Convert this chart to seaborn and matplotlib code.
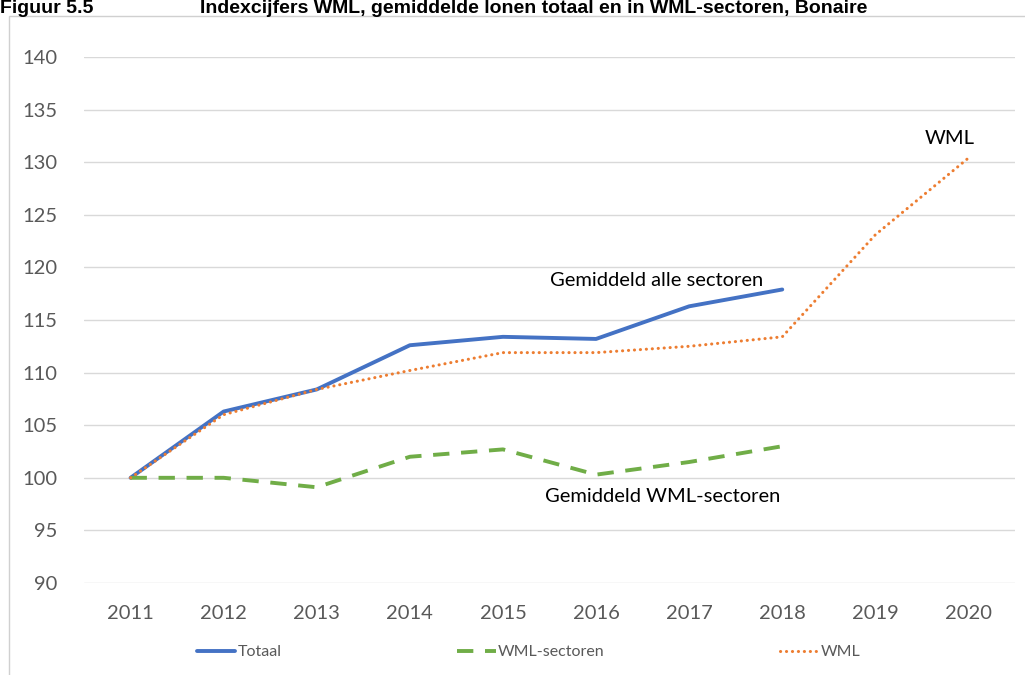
import matplotlib
matplotlib.use("Agg")
import matplotlib.pyplot as plt
import seaborn as sns
import pandas as pd
from matplotlib.patches import Rectangle

years = [2011, 2012, 2013, 2014, 2015, 2016, 2017, 2018, 2019, 2020]
totaal = [100.0, 106.3, 108.4, 112.6, 113.4, 113.2, 116.3, 117.9]
wml_sectoren = [100.0, 100.0, 99.1, 102.0, 102.7, 100.3, 101.5, 103.0]
wml = [100.0, 106.0, 108.4, 110.2, 111.9, 111.9, 112.5, 113.4, 123.1, 130.4]
y_ticks = [90, 95, 100, 105, 110, 115, 120, 125, 130, 135, 140]

title_nr = "Figuur 5.5"
title = "Indexcijfers WML, gemiddelde lonen totaal en in WML-sectoren, Bonaire"

sns.set_theme(style="white")
plt.rcParams['font.family'] = ['Lato', 'DejaVu Sans']

fig = plt.figure(figsize=(10.25, 6.75), dpi=100)
ax = fig.add_axes([84 / 1025, 92 / 675, 931 / 1025, 526 / 675])

df_t = pd.DataFrame({"jaar": years[:len(totaal)], "index": totaal})
df_s = pd.DataFrame({"jaar": years[:len(wml_sectoren)], "index": wml_sectoren})
df_w = pd.DataFrame({"jaar": years[:len(wml)], "index": wml})

sns.lineplot(data=df_t, x="jaar", y="index", ax=ax, color="#4472C4", lw=2.8,
             label="Totaal", solid_capstyle="round")
sns.lineplot(data=df_s, x="jaar", y="index", ax=ax, color="#70AD47", lw=2.8,
             label="WML-sectoren", dashes=False)
ax.lines[-1].set_dashes([4.2, 3.0])
ax.lines[-1].set_dash_capstyle("butt")
sns.lineplot(data=df_w, x="jaar", y="index", ax=ax, color="#ED7D31", lw=2.2,
             label="WML")
ax.lines[-1].set_linestyle((0, (0.05, 1.9)))
ax.lines[-1].set_dash_capstyle("round")

ax.set_xlim(2010.5, 2020.5)
ax.set_ylim(90, 140)
ax.set_yticks(y_ticks)
ax.set_xticks(years)
ax.set_xlabel("")
ax.set_ylabel("")
ax.yaxis.grid(True, color="#d9d9d9", lw=1.0)
ax.set_axisbelow(True)
for s in ax.spines.values():
    s.set_visible(False)
ax.tick_params(axis="both", length=0, labelsize=14.5, labelcolor="#595959")
ax.tick_params(axis="y", pad=19)
ax.tick_params(axis="x", pad=16)

ax.text(2015.50, 118.8, "Gemiddeld alle sectoren", fontsize=14.5, color="black", va="center", ha="left")
ax.text(2015.45, 98.2, "Gemiddeld WML-sectoren", fontsize=14.5, color="black", va="center", ha="left")
ax.text(2019.8, 132.3, "WML", fontsize=14.5, color="black", va="center", ha="center")

ax.get_legend().remove()
handles, labels = ax.get_legend_handles_labels()
leg = fig.legend(handles, labels, loc="center", bbox_to_anchor=(0.516, 23 / 675), ncol=3,
                 frameon=False, fontsize=11.5, handlelength=2.4, handletextpad=0.15,
                 columnspacing=11.0)
for t in leg.get_texts():
    t.set_color("#595959")

fig.patches.append(Rectangle((9 / 1025, -0.01), 1.2, 1 - 16 / 675 + 0.01, transform=fig.transFigure,
                             fill=False, edgecolor="#d0d0d0", lw=1.0))
fig.text(0.0, 1 - 13 / 675, title_nr, fontsize=14, fontweight="bold",
         family=["Liberation Sans", "DejaVu Sans"], ha="left", va="baseline", color="black")
fig.text(200 / 1025, 1 - 13 / 675, title, fontsize=14, fontweight="bold",
         family=["Liberation Sans", "DejaVu Sans"], ha="left", va="baseline", color="black")

fig.savefig("out.png", dpi=100)
